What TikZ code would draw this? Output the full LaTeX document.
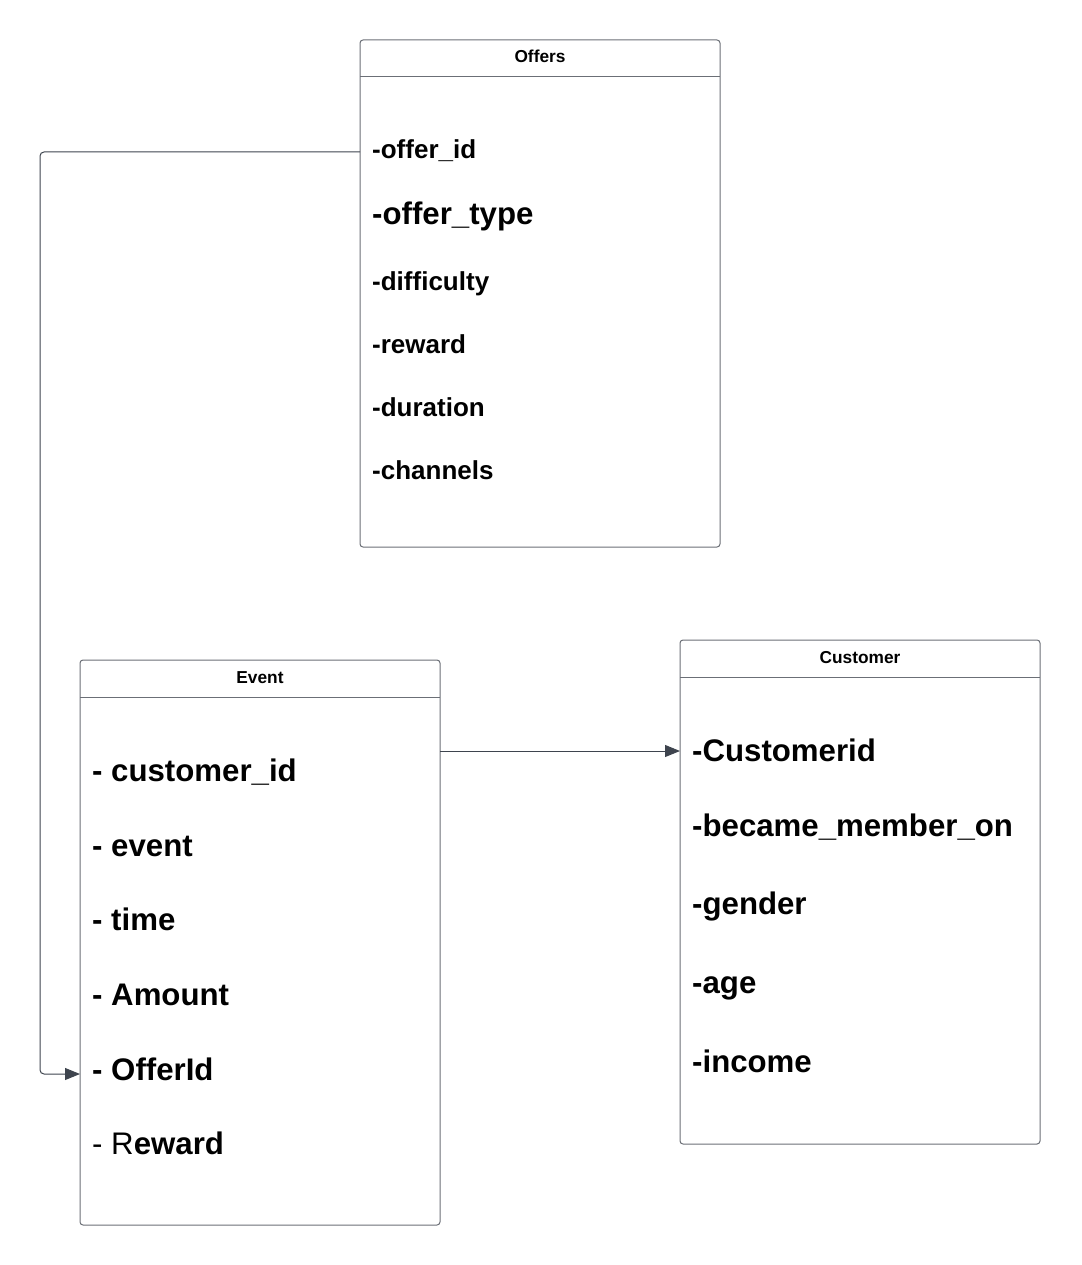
\documentclass[tikz,border=0pt]{standalone}
\usepackage{fontspec}
\setmainfont{Liberation Sans}
\usetikzlibrary{arrows.meta}
\definecolor{boxgray}{HTML}{6B6F76}
\definecolor{linkgray}{HTML}{3E444E}

\begin{document}
\begin{tikzpicture}[x=1pt,y=-1pt,
	entity/.style={draw=boxgray,line width=1pt,rounded corners=3pt,inner sep=0pt},
	title/.style={anchor=base,font=\bfseries\fontsize{17.3}{20}\selectfont},
	field/.style={anchor=base west,inner sep=0pt,font=\bfseries\fontsize{26}{30}\selectfont},
	bigfield/.style={anchor=base west,inner sep=0pt,font=\bfseries\fontsize{31.2}{36}\selectfont},
	link/.style={draw=linkgray,line width=1pt,rounded corners=4pt,-{Triangle[length=15pt,width=12pt]}}]
	\useasboundingbox (0,0) rectangle (1081,1265);
	% boxes
	\draw[entity] (360,40) rectangle (720,547);
	\draw[boxgray,line width=1pt] (360,77) -- (720,77);
	\node[title] (offers) at (540,63) {Offers};
	\draw[entity] (80,660) rectangle (440,1225);
	\draw[boxgray,line width=1pt] (80,697) -- (440,697);
	\node[title] (event) at (260,683) {Event};
	\draw[entity] (680,640) rectangle (1040,1144);
	\draw[boxgray,line width=1pt] (680,677) -- (1040,677);
	\node[title] (customer) at (860,663) {Customer};
	% offers fields
	\node[field] (offerid) at (372,159) {-offer\_id};
	\node[bigfield] (offertype) at (372,225) {-offer\_type};
	\node[field] (difficulty) at (372,290) {-difficulty};
	\node[field] (reward) at (372,353) {-reward};
	\node[field] (duration) at (372,416) {-duration};
	\node[field] (channels) at (372,479) {-channels};
	% event fields
	\node[bigfield] (custid) at (92,781) {- customer\_id};
	\node[bigfield] (eventname) at (92,856) {- event};
	\node[bigfield] (time) at (92,930) {- time};
	\node[bigfield] (amount) at (92,1005) {- Amount};
	\node[bigfield] (evofferid) at (92,1080) {- OfferId};
	\node[bigfield] (evreward) at (92,1154) {\mdseries - R\bfseries eward};
	% customer fields
	\node[bigfield] (customerid) at (692,761) {-Customerid};
	\node[bigfield] (member) at (692,836) {-became\_member\_on};
	\node[bigfield] (gender) at (692,914) {-gender};
	\node[bigfield] (age) at (692,993) {-age};
	\node[bigfield] (income) at (692,1072) {-income};
	% links
	\coordinate (offersout) at (360,152);
	\coordinate (eventin) at (80,1074);
	\coordinate (eventout) at (440,751);
	\coordinate (customerin) at (680,751);
	\draw[link] (offersout) -- (40,152) -- (40,1074) -- (eventin);
	\draw[link] (eventout) -- (customerin);
\end{tikzpicture}
\end{document}
